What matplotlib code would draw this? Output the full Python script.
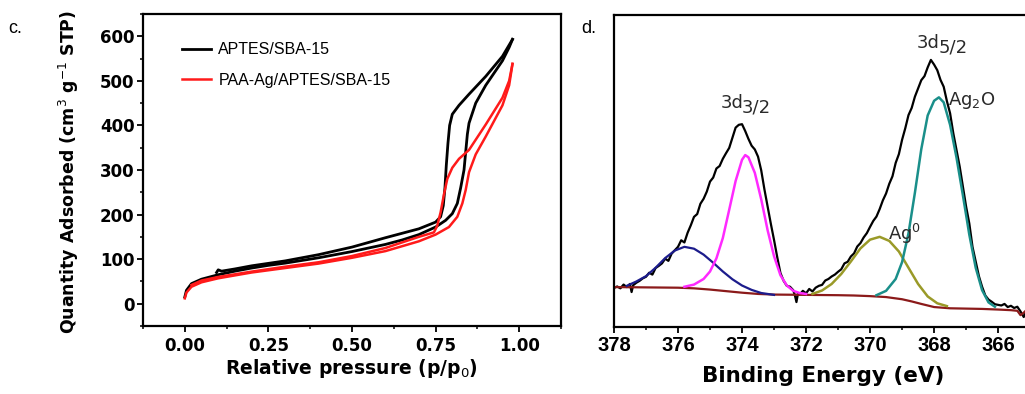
import numpy as np
import matplotlib.pyplot as plt
from matplotlib.ticker import MultipleLocator

plt.rcParams['font.family'] = ['Liberation Sans', 'DejaVu Sans']

# --- panel c: N2 isotherms ---
p_ads_blk = [0, 0.005, 0.02, 0.05, 0.1, 0.15, 0.2, 0.25, 0.3, 0.35, 0.4, 0.45, 0.5, 0.55, 0.6,
             0.65, 0.7, 0.75, 0.78, 0.8, 0.815, 0.825, 0.835, 0.84, 0.845, 0.85, 0.87, 0.9, 0.95, 0.97, 0.98]
q_ads_blk = [15, 30, 45, 55, 65, 73, 80, 86, 91, 97, 103, 110, 117, 125, 133,
             143, 155, 172, 187, 202, 225, 260, 300, 340, 380, 405, 450, 490, 545, 575, 593]
p_des_blk = [0.98, 0.95, 0.9, 0.85, 0.82, 0.8, 0.792, 0.787, 0.782, 0.778, 0.773, 0.765, 0.75,
             0.7, 0.6, 0.5, 0.4, 0.3, 0.2, 0.15, 0.11, 0.1, 0.095]
q_des_blk = [593, 555, 510, 470, 445, 425, 400, 360, 310, 260, 220, 195, 183,
             168, 148, 127, 110, 96, 85, 78, 73, 76, 70]

p_ads_red = [0, 0.005, 0.02, 0.05, 0.1, 0.2, 0.3, 0.4, 0.5, 0.6, 0.7, 0.75, 0.79, 0.815,
             0.83, 0.84, 0.85, 0.87, 0.9, 0.95, 0.97, 0.98]
q_ads_red = [12, 25, 38, 48, 57, 70, 80, 90, 103, 118, 140, 155, 172, 195,
             225, 255, 295, 335, 375, 445, 490, 538]
p_des_red = [0.98, 0.97, 0.95, 0.9, 0.85, 0.82, 0.8, 0.785, 0.775, 0.765, 0.755, 0.745,
             0.7, 0.6, 0.5, 0.4, 0.3, 0.2, 0.1, 0.05, 0.02]
q_des_red = [538, 500, 462, 402, 345, 325, 305, 280, 245, 205, 175, 160,
             150, 125, 107, 93, 83, 72, 60, 52, 42]

# --- panel d: Ag 3d XPS ---
be_raw = [378.0, 377.9, 377.8, 377.7, 377.6, 377.5, 377.45, 377.4, 377.3, 377.2, 377.1, 377.0,
          376.9, 376.8, 376.7, 376.6, 376.5, 376.4, 376.3, 376.2, 376.1, 376.0, 375.9, 375.8,
          375.7, 375.6, 375.5, 375.4, 375.3, 375.2, 375.1, 375.0, 374.9, 374.8, 374.7, 374.6,
          374.5, 374.4, 374.3, 374.2, 374.1, 374.0, 373.9, 373.8, 373.7, 373.6, 373.5, 373.4,
          373.3, 373.2, 373.1, 373.0, 372.9, 372.8, 372.7, 372.6, 372.5, 372.4, 372.35, 372.3,
          372.25, 372.2, 372.1, 372.0, 371.9, 371.8, 371.7, 371.6, 371.5, 371.4, 371.3, 371.2,
          371.1, 371.0, 370.9, 370.8, 370.7, 370.6, 370.5, 370.4, 370.3, 370.2, 370.1, 370.0,
          369.9, 369.8, 369.7, 369.6, 369.5, 369.4, 369.3, 369.2, 369.1, 369.0, 368.9, 368.8,
          368.7, 368.6, 368.5, 368.4, 368.3, 368.2, 368.1, 368.0, 367.9, 367.8, 367.7, 367.6,
          367.5, 367.4, 367.3, 367.2, 367.1, 367.0, 366.9, 366.8, 366.7, 366.6, 366.5, 366.4,
          366.3, 366.2, 366.1, 366.0, 365.9, 365.8, 365.7, 365.6, 365.5, 365.4, 365.3, 365.2, 365.1]
int_raw = [12.5, 13.0, 12.4, 13.6, 12.8, 13.8, 11.2, 13.4, 14.2, 14.8, 15.6, 16.1,
           17.4, 16.8, 18.9, 19.6, 20.4, 21.9, 21.2, 23.5, 24.6, 25.7, 27.8, 27.1,
           30.2, 32.6, 35.3, 36.2, 39.5, 41.1, 43.4, 46.6, 47.9, 50.8, 51.6, 53.9,
           55.7, 57.4, 60.6, 63.9, 64.8, 65.0, 62.8, 60.3, 58.1, 56.9, 54.6, 50.2,
           44.1, 38.6, 33.1, 27.9, 22.4, 17.3, 14.8, 13.2, 12.9, 11.8, 10.2, 8.0,
           10.9, 10.4, 11.6, 10.8, 12.2, 11.4, 12.6, 13.2, 13.5, 14.9, 15.4, 16.2,
           16.8, 17.7, 18.5, 20.4, 20.9, 22.6, 23.6, 25.8, 26.9, 28.7, 30.1, 32.1,
           34.0, 35.4, 37.8, 40.6, 42.8, 45.9, 48.3, 52.6, 55.4, 60.0, 63.7, 67.9,
           70.2, 73.8, 76.5, 79.1, 80.4, 83.2, 85.6, 84.1, 82.3, 79.2, 77.0, 72.4,
           68.5, 62.1, 56.8, 51.4, 44.9, 38.6, 33.2, 25.7, 21.0, 16.3, 12.9, 10.1,
           8.8, 8.1, 7.3, 7.1, 6.9, 7.4, 6.4, 6.8, 6.1, 6.5, 5.0, 3.2, 5.6]

be_bg = [378.0, 377.0, 376.0, 375.5, 375.0, 374.5, 374.0, 373.5, 373.0, 372.0, 371.0, 370.5,
         370.0, 369.5, 369.0, 368.7, 368.4, 368.0, 367.5, 367.0, 366.5, 366.0, 365.6, 365.4,
         365.3, 365.2, 365.1]
int_bg = [12.8, 12.7, 12.6, 12.4, 12.0, 11.5, 11.0, 10.6, 10.4, 10.3, 10.2, 10.1,
          9.9, 9.6, 8.9, 8.2, 7.4, 6.4, 6.0, 5.9, 5.8, 5.6, 5.4, 5.2, 3.8, 4.6, 5.6]

be_blue = [377.6, 377.3, 377.0, 376.7, 376.4, 376.1, 375.8, 375.5, 375.2, 374.9, 374.6,
           374.3, 374.0, 373.7, 373.4, 373.0]
int_blue = [13.2, 14.6, 16.3, 19.0, 22.1, 24.5, 25.7, 25.1, 23.2, 20.6, 17.8,
            15.3, 13.3, 11.9, 10.9, 10.3]

be_mag = [375.8, 375.5, 375.2, 375.0, 374.8, 374.6, 374.4, 374.2, 374.0, 373.9, 373.8,
          373.6, 373.4, 373.2, 373.0, 372.8, 372.6, 372.4, 372.2, 372.0]
int_mag = [12.9, 13.6, 15.4, 17.8, 22.0, 28.5, 37.6, 46.8, 53.6, 55.1, 54.4,
           49.4, 40.9, 31.0, 22.7, 16.6, 13.3, 11.6, 10.9, 10.6]

be_olv = [371.8, 371.5, 371.2, 370.9, 370.6, 370.3, 370.0, 369.7, 369.4, 369.1, 368.8,
          368.5, 368.2, 367.9, 367.6]
int_olv = [10.6, 11.7, 13.8, 17.0, 21.0, 25.2, 28.0, 28.9, 27.6, 24.2, 19.0,
           13.8, 9.8, 7.6, 6.7]

be_teal = [369.8, 369.5, 369.2, 369.0, 368.8, 368.6, 368.4, 368.2, 368.0, 367.85, 367.7,
           367.5, 367.3, 367.1, 366.9, 366.7, 366.5, 366.3, 366.1]
int_teal = [10.2, 11.6, 15.4, 20.8, 30.0, 43.0, 57.0, 67.8, 72.5, 73.6, 72.0,
            64.8, 54.3, 42.2, 29.6, 19.0, 11.8, 7.9, 6.5]

wide = ['DejaVu Sans']   # the source figure is a bit stretched sideways
txt = '#2a2a2a'

fig = plt.figure(figsize=(10.25, 3.94), dpi=100)

# left panel
ax1 = fig.add_axes([0.1395, 0.1726, 0.4078, 0.792])
ax1.plot(p_ads_blk, q_ads_blk, color='black', lw=2, label='APTES/SBA-15')
ax1.plot(p_des_blk, q_des_blk, color='black', lw=2)
ax1.plot(p_ads_red, q_ads_red, color='#ff1a1a', lw=1.8, label='PAA-Ag/APTES/SBA-15')
ax1.plot(p_des_red, q_des_red, color='#ff1a1a', lw=1.8)
ax1.set_xlim(-0.125, 1.125)
ax1.set_ylim(-50, 650)
ax1.set_xticks([0, 0.25, 0.5, 0.75, 1.0])
ax1.set_xticklabels(['0.00', '0.25', '0.50', '0.75', '1.00'])
ax1.xaxis.set_minor_locator(MultipleLocator(0.125))
ax1.set_yticks(range(0, 700, 100))
ax1.yaxis.set_minor_locator(MultipleLocator(50))
ax1.tick_params(which='major', length=4, width=1.3, labelsize=12)
ax1.tick_params(axis='x', which='major', pad=4)
ax1.tick_params(axis='y', which='major', pad=2)
ax1.tick_params(which='minor', length=2.5, width=1.1)
for lab in ax1.get_xticklabels() + ax1.get_yticklabels():
    lab.set_fontweight('bold')
    lab.set_family(wide)
ax1.set_xlabel('Relative pressure (p/p$_0$)', fontsize=13.5, fontweight='bold', family=wide)
ax1.xaxis.set_label_coords(0.5, -0.1)
ax1.set_ylabel('Quantity Adsorbed (cm$^3$ g$^{-1}$ STP)', fontsize=12.5, fontweight='bold', family=wide)
ax1.yaxis.set_label_coords(-0.148, 0.495)
ax1.legend(loc='upper left', bbox_to_anchor=(0.06, 0.955), frameon=False, fontsize=11.5,
           handlelength=1.8, handletextpad=0.45, labelspacing=0.95)
for s in ax1.spines.values():
    s.set_linewidth(1.6)
fig.text(0.008, 0.915, 'c.', fontsize=13)

# right panel
ax2 = fig.add_axes([0.599, 0.170, 0.406, 0.792])
ax2.plot(be_raw, int_raw, color='black', lw=1.6)
ax2.plot(be_bg, int_bg, color='#8b1a1a', lw=1.6)
ax2.plot(be_blue, int_blue, color='#1c1c8c', lw=1.6)
ax2.plot(be_mag, int_mag, color='#ff2aff', lw=1.8)
ax2.plot(be_olv, int_olv, color='#9a9a28', lw=1.8)
ax2.plot(be_teal, int_teal, color='#1a8f8a', lw=1.8)
ax2.set_xlim(378, 365)
ax2.set_ylim(0, 100)
ax2.set_yticks([])
ax2.set_xticks([378, 376, 374, 372, 370, 368, 366])
ax2.xaxis.set_minor_locator(MultipleLocator(1))
ax2.tick_params(which='major', length=4, width=1.3, labelsize=14.5, pad=2.5)
ax2.tick_params(which='minor', length=2.5, width=1.1)
for lab in ax2.get_xticklabels():
    lab.set_fontweight('bold')
ax2.set_xlabel('Binding Energy (eV)', fontsize=15.5, fontweight='bold', family=wide)
ax2.xaxis.set_label_coords(0.502, -0.125)
for s in ax2.spines.values():
    s.set_linewidth(1.6)

# peak labels; the 3/2 and 5/2 subscripts are nearly full size in the source
t = ax2.text(374.66, 70.2, '3d', fontsize=13, color=txt, family=wide)
ax2.annotate('3/2', xy=(1, 0), xycoords=t, xytext=(-1.2, -3.5), textcoords='offset points',
             fontsize=13, color=txt, family=wide, va='bottom')
t = ax2.text(368.53, 89.4, '3d', fontsize=13, color=txt, family=wide)
ax2.annotate('5/2', xy=(1, 0), xycoords=t, xytext=(-1.2, -3.5), textcoords='offset points',
             fontsize=13, color=txt, family=wide, va='bottom')
ax2.text(367.56, 71.0, 'Ag$_2$O', fontsize=13, color=txt, family=wide)
ax2.text(369.44, 28.0, 'Ag$^0$', fontsize=13, color=txt, family=wide)
fig.text(0.567, 0.915, 'd.', fontsize=13)

fig.savefig('out.png', dpi=100)
